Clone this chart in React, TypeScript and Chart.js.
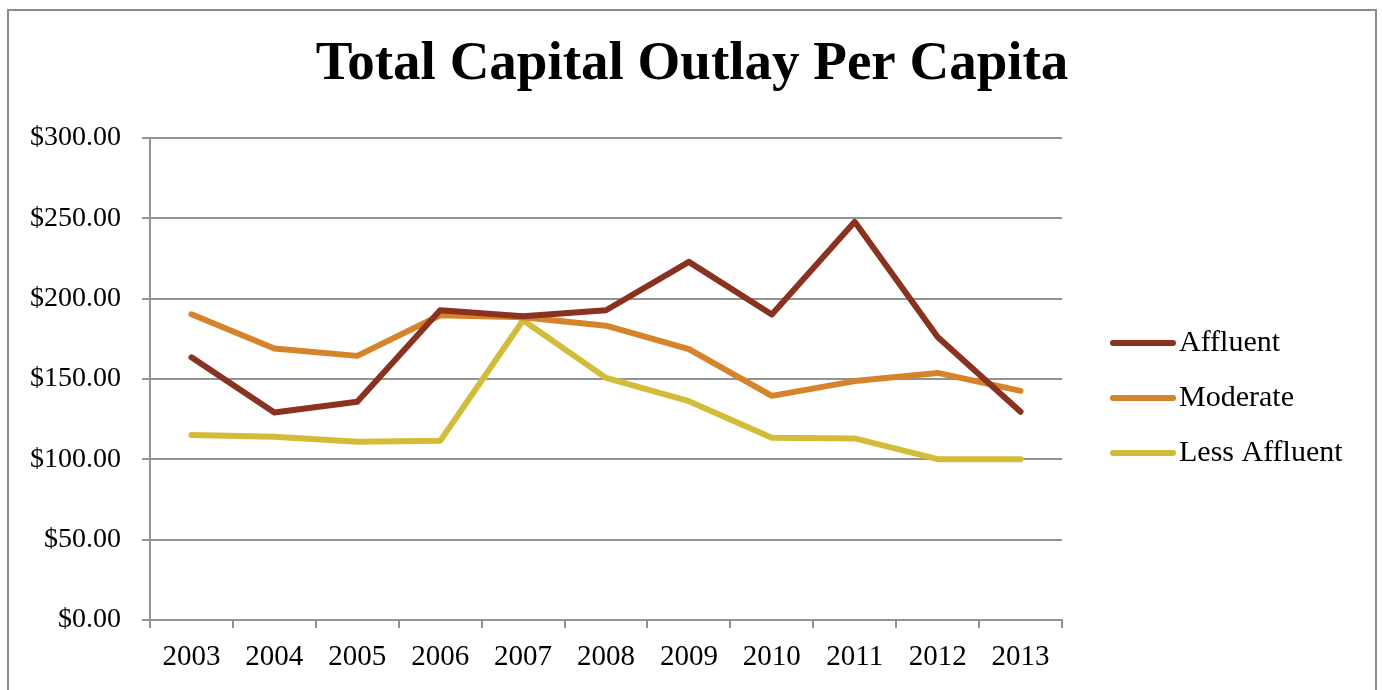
import React, { useEffect, useRef } from "react";
import { Chart, registerables } from "chart.js";

Chart.register(...registerables);

const years = ["2003", "2004", "2005", "2006", "2007", "2008", "2009", "2010", "2011", "2012", "2013"];
const affluent = [163.5, 129.2, 135.8, 192.8, 189.1, 192.8, 222.9, 190.1, 247.8, 176.2, 129.6];
const moderate = [190.3, 169.0, 164.4, 189.7, 188.5, 183.2, 168.6, 139.5, 148.7, 153.8, 142.6];
const lessAffluent = [115.1, 114.0, 110.9, 111.5, 186.6, 150.7, 136.2, 113.4, 113.0, 100.1, 100.0];
const seriesNames = ["Affluent", "Moderate", "Less Affluent"];
const seriesColors = ["#8A3220", "#D6832B", "#D2BD3B"];
const titleText = "Total Capital Outlay Per Capita";
const yMin = 0;
const yMax = 300;
const yStep = 50;

const FONT = '"Liberation Serif", "Times New Roman", serif';
const GRID = "#939393";

const sideLegend = {
  id: "sideLegend",
  afterDraw(chart: any) {
    const { ctx, chartArea } = chart;
    chart.data.datasets.forEach((ds: any, i: number) => {
      const y = chartArea.top + 205 + i * 55;
      const x0 = chartArea.right + 48;
      ctx.save();
      ctx.strokeStyle = ds.borderColor;
      ctx.lineWidth = 6;
      ctx.lineCap = "round";
      ctx.beginPath();
      ctx.moveTo(x0 + 3, y);
      ctx.lineTo(x0 + 63, y);
      ctx.stroke();
      ctx.fillStyle = "#000";
      ctx.font = `30px ${FONT}`;
      ctx.textBaseline = "middle";
      ctx.textAlign = "left";
      ctx.fillText(ds.label, x0 + 69, y);
      ctx.restore();
    });
  },
};

export default function App() {
  const ref = useRef<HTMLCanvasElement | null>(null);

  useEffect(() => {
    document.body.style.overflow = "hidden";
    const canvas = ref.current;
    if (!canvas) return;
    const values = [affluent, moderate, lessAffluent];
    const chart = new Chart(canvas, {
      type: "line",
      data: {
        labels: years,
        datasets: values.map((v, i) => ({
          label: seriesNames[i],
          data: v,
          borderColor: seriesColors[i],
          backgroundColor: seriesColors[i],
          borderWidth: 6,
          pointRadius: 0,
          tension: 0,
          borderCapStyle: "round" as const,
          borderJoinStyle: "round" as const,
          fill: false,
          yAxisID: "y",
        })),
      },
      options: {
        responsive: false,
        animation: false,
        layout: { padding: 0 },
        plugins: {
          legend: { display: false },
          tooltip: { enabled: false },
          title: {
            display: true,
            text: titleText,
            color: "#000",
            font: { family: FONT, size: 55, weight: "bold" },
            padding: { top: 21, bottom: 40 },
          },
        },
        scales: {
          x: {
            type: "category",
            offset: true,
            grid: {
              offset: true,
              drawOnChartArea: false,
              drawTicks: true,
              tickLength: 8,
              color: GRID,
              lineWidth: 2,
            },
            border: { display: true, color: GRID, width: 2 },
            ticks: {
              color: "#000",
              font: { family: FONT, size: 29 },
              padding: 12,
              maxRotation: 0,
              autoSkip: false,
            },
            afterFit(scale: any) {
              scale.height = 71;
            },
          },
          y: {
            min: yMin,
            max: yMax,
            grid: {
              color: GRID,
              lineWidth: 2,
              drawTicks: true,
              tickLength: 8,
            },
            border: { display: true, color: GRID, width: 2 },
            ticks: {
              stepSize: yStep,
              color: "#000",
              font: { family: FONT, size: 28 },
              padding: 21,
              callback: (v: any) => "$" + Number(v).toFixed(2),
            },
            afterFit(scale: any) {
              scale.width = 141;
            },
          },
          legendSpace: {
            type: "linear",
            position: "right",
            min: yMin,
            max: yMax,
            grid: { display: false, drawOnChartArea: false, drawTicks: false },
            border: { display: false },
            ticks: { display: false },
            afterFit(scale: any) {
              scale.width = 313;
            },
          },
        },
      },
      plugins: [sideLegend],
    });
    return () => chart.destroy();
  }, []);

  return (
    <div
      style={{
        position: "fixed",
        left: 7,
        top: 9,
        width: 1366,
        height: 720,
        border: "2px solid #8c8c8c",
        background: "#fff",
        overflow: "hidden",
      }}
    >
      <canvas ref={ref} width={1366} height={680} style={{ display: "block" }} />
    </div>
  );
}
